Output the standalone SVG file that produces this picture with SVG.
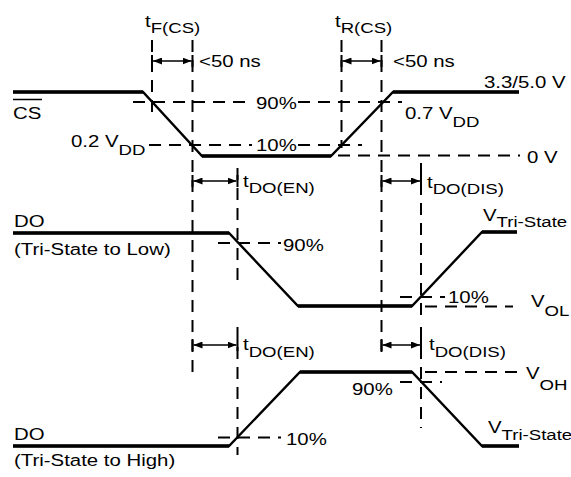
<svg xmlns="http://www.w3.org/2000/svg" width="571" height="477" viewBox="0 0 571 477">
<style>
.sig{fill:none;stroke:#000;stroke-width:2.4;stroke-linejoin:miter}
.hz{stroke:#000;stroke-width:3.4}
.dash{fill:none;stroke:#000;stroke-width:2;stroke-dasharray:12 8}
.arr{stroke:#000;stroke-width:1.4;marker-start:url(#ah);marker-end:url(#ah)}
.tick{stroke:#000;stroke-width:2}
text{font-family:"Liberation Sans",Arial,sans-serif;font-size:17px;fill:#000}
.sub{font-size:15.5px}
</style>
<defs>
<marker id="ah" markerUnits="userSpaceOnUse" markerWidth="9" markerHeight="7" refX="9" refY="3.5" orient="auto-start-reverse">
<path d="M0,0 L9,3.5 L0,7 z" fill="#000"/>
</marker>
</defs>

<g id="connectors">
<line class="dash" x1="152" y1="40" x2="152" y2="112"/>
<line class="dash" x1="192.5" y1="40" x2="192.5" y2="373"/>
<line class="dash" x1="341.5" y1="40" x2="341.5" y2="148"/>
<line class="dash" x1="381.5" y1="40" x2="381.5" y2="357"/>
<line class="dash" x1="237.5" y1="168" x2="237.5" y2="285"/>
<line class="dash" x1="237.5" y1="327" x2="237.5" y2="455"/>
<line class="dash" x1="421" y1="163" x2="421" y2="317"/>
<line class="dash" x1="421" y1="327" x2="421" y2="428"/>
<line class="dash" x1="133" y1="102" x2="252" y2="102"/>
<line class="dash" x1="298" y1="102" x2="402" y2="102"/>
<line class="dash" x1="149" y1="145" x2="252" y2="145"/>
<line class="dash" x1="298" y1="145" x2="362" y2="145"/>
<line class="dash" x1="338" y1="155.5" x2="520" y2="155.5"/>
<line class="dash" x1="218" y1="243" x2="281" y2="243"/>
<line class="dash" x1="400" y1="297" x2="445" y2="297"/>
<line class="dash" x1="425" y1="306.5" x2="513" y2="306.5"/>
<line class="dash" x1="218" y1="437.5" x2="281" y2="437.5"/>
<line class="dash" x1="425" y1="372" x2="517" y2="372"/>
<line class="dash" x1="400" y1="382" x2="442" y2="382"/>
<line class="arr" x1="153" y1="61" x2="191.5" y2="61"/>
<line class="arr" x1="342.5" y1="61" x2="380.5" y2="61"/>
<line class="arr" x1="193.5" y1="181" x2="236.5" y2="181"/>
<line class="arr" x1="382.5" y1="181" x2="420" y2="181"/>
<line class="arr" x1="193.5" y1="345" x2="236.5" y2="345"/>
<line class="arr" x1="382.5" y1="345" x2="420" y2="345"/>
<path class="tick" d="M152,55V67M192.5,55V67M341.5,55V67M381.5,55V67M192.5,175V187M237.5,175V187M381.5,175V187M421,175V187M192.5,339V351M237.5,339V351M381.5,339V351M421,339V351"/>
</g>

<g id="cs-signal">
<polyline class="sig" points="13,92 143,92 202,156 331,156 393,92 519,92"/>
<path class="hz" d="M13,92H143M202,156H331M393,92H519"/>
<text transform="translate(13,119) scale(1.2,1)">CS</text>
<line x1="13" y1="99.5" x2="42" y2="99.5" stroke="#000" stroke-width="1.5"/>
<text transform="translate(484,88) scale(1.2,1)">3.3/5.0 V</text>
<text transform="translate(527,163) scale(1.2,1)">0 V</text>
<text transform="translate(256,109) scale(1.2,1)">90%</text>
<text transform="translate(256,151) scale(1.2,1)">10%</text>
<text transform="translate(71,147) scale(1.2,1)">0.2 V<tspan class="sub" dy="8">DD</tspan></text>
<text transform="translate(405,119) scale(1.2,1)">0.7 V<tspan class="sub" dy="8">DD</tspan></text>
</g>

<g id="tf-cs">
<text transform="translate(145,27) scale(1.2,1)">t<tspan class="sub" dy="6">F(CS)</tspan></text>
<text transform="translate(199,67) scale(1.2,1)">&lt;50 ns</text>
</g>

<g id="tr-cs">
<text transform="translate(335,27) scale(1.2,1)">t<tspan class="sub" dy="6">R(CS)</tspan></text>
<text transform="translate(393,67) scale(1.2,1)">&lt;50 ns</text>
</g>

<g id="do-low">
<polyline class="sig" points="13,233 229,233 298,306 412,306 482,232 517,232"/>
<path class="hz" d="M13,233H229M298,306H412M482,232H517"/>
<text transform="translate(14,227) scale(1.2,1)">DO</text>
<text transform="translate(14,255) scale(1.2,1)">(Tri-State to Low)</text>
<text transform="translate(283,251) scale(1.2,1)">90%</text>
<text transform="translate(448,303) scale(1.2,1)">10%</text>
<text transform="translate(483,221) scale(1.2,1)">V<tspan class="sub" dy="6">Tri-State</tspan></text>
<text transform="translate(531,307) scale(1.2,1)">V<tspan class="sub" dy="9">OL</tspan></text>
<text transform="translate(243,187) scale(1.2,1)">t<tspan class="sub" dy="6">DO(EN)</tspan></text>
<text transform="translate(427,188) scale(1.2,1)">t<tspan class="sub" dy="6">DO(DIS)</tspan></text>
</g>

<g id="do-high">
<polyline class="sig" points="13,446 229,446 300,372 412,372 482,446 519,446"/>
<path class="hz" d="M13,446H229M300,372H412M482,446H519"/>
<text transform="translate(14,440) scale(1.2,1)">DO</text>
<text transform="translate(14,466) scale(1.2,1)">(Tri-State to High)</text>
<text transform="translate(286,445) scale(1.2,1)">10%</text>
<text transform="translate(352,395) scale(1.2,1)">90%</text>
<text transform="translate(526,379) scale(1.2,1)">V<tspan class="sub" dy="11">OH</tspan></text>
<text transform="translate(488,433) scale(1.2,1)">V<tspan class="sub" dy="7">Tri-State</tspan></text>
<text transform="translate(243,350) scale(1.2,1)">t<tspan class="sub" dy="7">DO(EN)</tspan></text>
<text transform="translate(429,350) scale(1.2,1)">t<tspan class="sub" dy="7">DO(DIS)</tspan></text>
</g>
</svg>
